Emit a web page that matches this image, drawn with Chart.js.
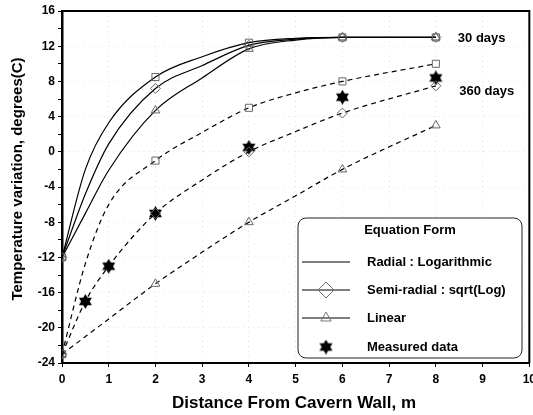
<!DOCTYPE html>
<html lang="en">
<head>
<meta charset="UTF-8">
<title>Temperature variation from cavern wall</title>
<script src="https://cdn.jsdelivr.net/npm/chart.js"></script>
<style>
  html, body { margin: 0; padding: 0; background: #fff; overflow: hidden; }
  #wrap { width: 541px; height: 415px; }
</style>
</head>
<body>
<div id="wrap"><canvas id="chart"></canvas></div>
<script>
// distances (m) where the equation forms were evaluated
const distCalc = [0, 0.5, 1, 2, 3, 4, 5, 6, 8];

// 30 days
const radial30 = [-12, -2, 3.3, 8.5, 10.8, 12.4, 12.9, 13, 13];
const semi30   = [-12, -4.8, 0.9, 7.2, 9.8, 12.1, 12.8, 13, 13];
const linear30 = [-12, -7, -2.1, 4.7, 8.4, 11.7, 12.7, 13, 13];

// 360 days
const radial360 = [-23, -12.7, -6, -1, 2.2, 5, 6.7, 8, 10];
const semi360   = [-23, -17, -13, -7, -3.2, 0, 2.3, 4.4, 7.5];
const linear360 = [-23, -21, -19, -15, -11.4, -8, -5, -2, 3];

// measured in the field
const distMeasured = [0.5, 1, 2, 4, 6, 8];
const measured     = [-17, -13, -7, 0.5, 6.2, 8.4];

// only these distances get a marker on the calculated curves
const markedDist = [0, 2, 4, 6, 8];

const FONT = "'Liberation Sans', Arial, sans-serif";

function pts(xs, ys) {
  return xs.map((x, i) => ({ x: x, y: ys[i] }));
}

// filled six-point star for the measured data
function makeStar(size) {
  const c = document.createElement('canvas');
  c.width = size; c.height = size;
  const g = c.getContext('2d');
  const r = size / 2;
  g.fillStyle = '#000';
  [-Math.PI / 2, Math.PI / 2].forEach(a0 => {
    g.beginPath();
    for (let i = 0; i < 3; i++) {
      const a = a0 + i * 2 * Math.PI / 3;
      const px = r + r * Math.cos(a), py = r + r * Math.sin(a);
      if (i) g.lineTo(px, py); else g.moveTo(px, py);
    }
    g.closePath();
    g.fill();
  });
  return c;
}
const starImg = makeStar(15);

function markerRadius(r) {
  return c => (c.raw && markedDist.includes(c.raw.x)) ? r : 0;
}

function calcSet(label, ys, style, r, dashed) {
  return {
    label: label,
    data: pts(distCalc, ys),
    borderColor: '#000',
    borderWidth: 1.2,
    borderDash: dashed ? [5, 4] : [],
    cubicInterpolationMode: 'monotone',
    pointStyle: style,
    pointRadius: markerRadius(r),
    pointBorderColor: '#666',
    pointBorderWidth: 1,
    pointBackgroundColor: 'rgba(255,255,255,0)',
    fill: false
  };
}

const datasets = [
  calcSet('Radial : Logarithmic', radial30, 'rect', 5, false),
  calcSet('Semi-radial : sqrt(Log)', semi30, 'rectRot', 5, false),
  calcSet('Linear', linear30, 'triangle', 5, false),
  calcSet('Radial : Logarithmic', radial360, 'rect', 5, true),
  calcSet('Semi-radial : sqrt(Log)', semi360, 'rectRot', 5, true),
  calcSet('Linear', linear360, 'triangle', 5, true),
  {
    label: 'Measured data',
    data: pts(distMeasured, measured),
    showLine: false,
    pointStyle: starImg,
    pointRadius: 7
  }
];

// frame, axis titles, curve labels and the boxed legend
const decor = {
  id: 'decor',
  afterDraw(chart) {
    const g = chart.ctx;
    const a = chart.chartArea;
    const xs = chart.scales.x, ys = chart.scales.y;
    g.save();
    g.setLineDash([]);
    g.strokeStyle = '#000';
    g.lineWidth = 2;
    g.beginPath();
    g.moveTo(a.left, a.top);
    g.lineTo(a.right, a.top);
    g.lineTo(a.right, a.bottom);
    g.stroke();

    g.fillStyle = '#000';
    g.font = 'bold 13px ' + FONT;
    g.textBaseline = 'middle';
    g.textAlign = 'left';
    g.fillText('30 days', xs.getPixelForValue(8.47), ys.getPixelForValue(12.9));
    g.fillText('360 days', xs.getPixelForValue(8.5), ys.getPixelForValue(6.9));

    // axis titles
    g.font = 'bold 17px ' + FONT;
    g.textAlign = 'center';
    g.fillText('Distance From Cavern Wall, m', 294, 403);
    g.save();
    g.translate(18, 179);
    g.rotate(-Math.PI / 2);
    g.font = 'bold 15px ' + FONT;
    g.fillText('Temperature variation, degrees(C)', 0, 0);
    g.restore();

    // legend box
    const bx = 298, by = 218, bw = 224, bh = 140;
    g.fillStyle = '#fff';
    g.strokeStyle = '#222';
    g.lineWidth = 1;
    g.beginPath();
    g.roundRect(bx, by, bw, bh, 8);
    g.fill();
    g.stroke();

    g.fillStyle = '#000';
    g.font = 'bold 13px ' + FONT;
    g.textAlign = 'center';
    g.fillText('Equation Form', 410, 230);

    const rows = [
      { y: 262, text: 'Radial : Logarithmic', marker: null, r: 0 },
      { y: 290, text: 'Semi-radial : sqrt(Log)', marker: 'rectRot', r: 8 },
      { y: 318, text: 'Linear', marker: 'triangle', r: 6 },
      { y: 347, text: 'Measured data', marker: 'star', r: 0 }
    ];
    g.textAlign = 'left';
    rows.forEach(r => {
      if (r.marker !== 'star') {
        g.strokeStyle = '#000';
        g.lineWidth = 1.2;
        g.beginPath();
        g.moveTo(302, r.y);
        g.lineTo(350, r.y);
        g.stroke();
      }
      if (r.marker === 'star') {
        g.drawImage(starImg, 326 - 7.5, r.y - 7.5);
      } else if (r.marker) {
        g.fillStyle = 'rgba(255,255,255,0)';
        g.strokeStyle = '#777';
        g.lineWidth = 1;
        Chart.helpers.drawPoint(g, { pointStyle: r.marker, radius: r.r, rotation: 0, borderWidth: 1 }, 326, r.y);
      }
      g.fillStyle = '#000';
      g.fillText(r.text, 367, r.y);
    });
    g.restore();
  }
};

new Chart(document.getElementById('chart'), {
  type: 'line',
  data: { datasets: datasets },
  plugins: [decor],
  options: {
    responsive: true,
    maintainAspectRatio: false,
    animation: false,
    layout: { padding: { top: 11, right: 5, left: 0, bottom: 0 } },
    plugins: {
      legend: { display: false },
      tooltip: { enabled: false }
    },
    scales: {
      x: {
        type: 'linear',
        min: 0,
        max: 10,
        afterFit: s => { s.height = 52; },
        ticks: {
          stepSize: 1,
          color: '#000',
          padding: 5,
          font: { family: FONT, weight: 'bold', size: 12 }
        },
        grid: {
          color: '#e2e2e2',
          tickColor: '#000',
          tickLength: 4
        },
        border: { color: '#000', width: 2, dash: [1, 4] }
      },
      y: {
        min: -24,
        max: 16,
        afterFit: s => { s.width = 62; },
        ticks: {
          stepSize: 2,
          color: '#000',
          padding: 3,
          font: { family: FONT, weight: 'bold', size: 12 },
          callback: v => (v % 4 === 0 ? v : '')
        },
        grid: {
          color: c => (c.tick && c.tick.value % 4 === 0 ? '#e2e2e2' : 'rgba(0,0,0,0)'),
          tickColor: '#000',
          tickLength: 4
        },
        border: { color: '#000', width: 2.5, dash: [1, 4] }
      }
    }
  }
});
</script>
</body>
</html>
